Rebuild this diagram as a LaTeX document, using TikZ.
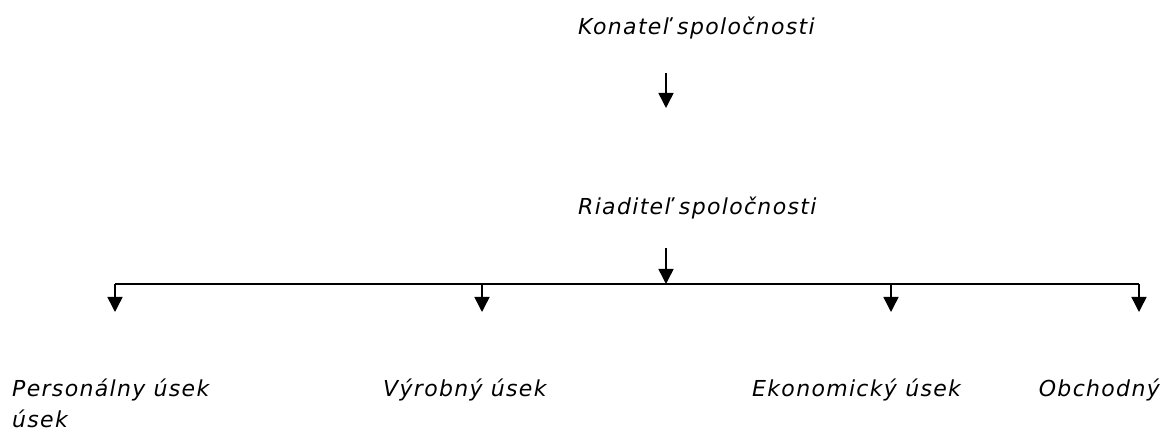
\documentclass[tikz,border=0pt]{standalone}
\usepackage{fontspec}
\setmainfont{DejaVu Sans}[LetterSpace=6]
\usepackage{tikz}
\usetikzlibrary{arrows.meta}

\begin{document}
\begin{tikzpicture}[x=1pt, y=-1pt,
		unit/.style={anchor=base west, inner sep=0pt, font=\fontsize{22}{31}\selectfont\itshape, align=left},
		link/.style={line width=1.5pt, -{Triangle[length=15pt, width=15pt]}}]
		\useasboundingbox (0,0) rectangle (1165,435);
		\node[unit] (konatel) at (578,35) {Konateľ spoločnosti};
		\node[unit] (riaditel) at (578,215) {Riaditeľ spoločnosti};
		\node[unit] (personal) at (12,428) {Personálny úsek\\úsek};
		\node[unit] (vyroba) at (383,397) {Výrobný úsek};
		\node[unit] (ekonomika) at (752,397) {Ekonomický úsek};
		\node[unit, anchor=base east] (obchod) at (1160,397) {Obchodný};
		\coordinate (k1) at (666,73);
		\coordinate (k2) at (666,108);
		\coordinate (r1) at (666,248);
		\coordinate (bus) at (666,284);
		\coordinate (busL) at (115,284);
		\coordinate (busR) at (1139,284);
		\draw[link] (k1) -- (k2);
		\draw[link] (r1) -- (bus);
		\draw[line width=1.5pt] (busL) -- (busR);
		\foreach \x/\name in {115/p, 482/v, 891/e, 1139/o}
			\draw[link] (\x,284) -- (\x,312) coordinate (\name);
	\end{tikzpicture}
\end{document}
